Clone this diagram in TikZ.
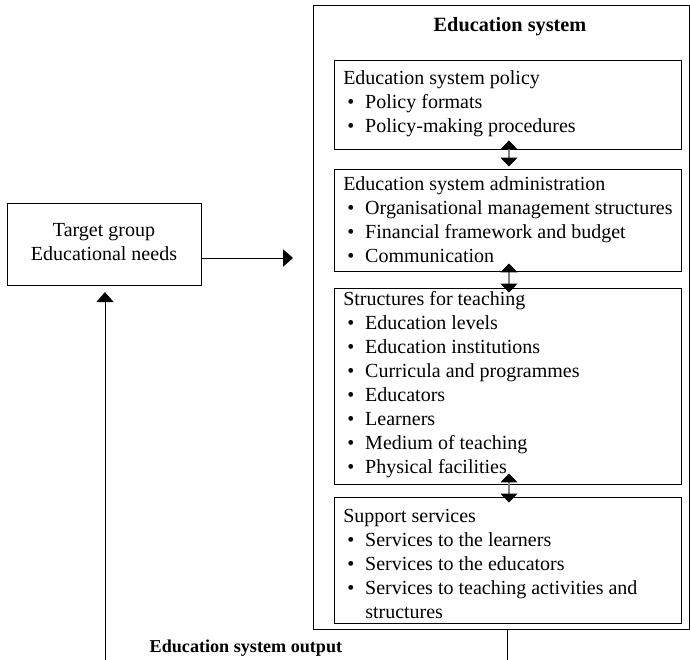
\documentclass[tikz,border=0pt]{standalone}
\usepackage{fontspec}
\setmainfont{Liberation Serif}
\usetikzlibrary{arrows.meta}

\newcommand{\bul}{\hspace*{3pt}\makebox[13.5pt][l]{\textbullet}}

\begin{document}
\begin{tikzpicture}[x=0.75pt,y=-0.75pt,
		font=\fontsize{15}{18}\selectfont,
		box/.style={draw,rectangle,line width=0.7pt,inner sep=0pt},
		txt/.style={anchor=north west,align=left,inner sep=0pt},
		tip/.style={-{Triangle[length=7.5pt,width=13pt]},line width=0.7pt},
		dbl/.style={{Triangle[length=6.75pt,width=12.75pt,black]}-{Triangle[length=6.75pt,width=12.75pt,black]},line width=0.9pt,gray}]
		\useasboundingbox (0,0) rectangle (690,660);

		\node[box,minimum width=282pt,minimum height=468pt] at (501,317) (sys) {};
		\node[anchor=base,font=\fontsize{15.2}{18}\selectfont\bfseries] at (510,32) (title) {Education system};

		\node[box,minimum width=260.25pt,minimum height=66.75pt] at (507.5,104.5) (pol) {};
		\node[box,minimum width=260.25pt,minimum height=76.5pt] at (507.5,220) (adm) {};
		\node[box,minimum width=260.25pt,minimum height=147pt] at (507.5,386) (tea) {};
		\node[box,minimum width=260.25pt,minimum height=94.5pt] at (507.5,560) (sup) {};

		\node[txt] at (343,70) (poltxt) {Education system policy\\
			\bul Policy formats\\
			\bul Policy-making procedures};
		\node[txt] at (343,176) (admtxt) {Education system administration\\
			\bul Organisational management structures\\
			\bul Financial framework and budget\\
			\bul Communication};
		\node[txt] at (343,291) (teatxt) {Structures for teaching\\
			\bul Education levels\\
			\bul Education institutions\\
			\bul Curricula and programmes\\
			\bul Educators\\
			\bul Learners\\
			\bul Medium of teaching\\
			\bul Physical facilities};
		\node[txt] at (343,509) (suptxt) {Support services\\
			\bul Services to the learners\\
			\bul Services to the educators\\
			\bul Services to teaching activities and\\
			\hspace*{16.5pt}structures};

		\node[box,minimum width=145.5pt,minimum height=61.5pt] at (104,244) (tgt) {};
		\node[align=center,inner sep=0pt] at ([yshift=1.5pt]tgt.center) (tgttxt) {Target group\\Educational needs};

		\coordinate (sysin) at (293,258);
		\coordinate (fb) at (105,660);
		\coordinate (out) at (507,660);

		\draw[tip] (tgt.east |- sysin) -- (sysin);
		\draw[tip,shorten >=5pt] (fb) -- (fb |- tgt.south);
		\draw[line width=0.7pt] (sys.south -| out) -- (out);

		\draw[dbl,shorten <=-6.75pt,shorten >=1.5pt] ([xshift=1.1pt]pol.south) -- ([xshift=1.1pt]adm.north);
		\draw[dbl,shorten <=-6pt,shorten >=-3.75pt] ([xshift=1.1pt]adm.south) -- ([xshift=1.1pt]tea.north);
		\draw[dbl,shorten <=-8.25pt,shorten >=-4.5pt] ([xshift=1.1pt]tea.south) -- ([xshift=1.1pt]sup.north);

		\node[anchor=base west,font=\fontsize{13.6}{16}\selectfont\bfseries] at (145,652) (outlbl) {Education system output};
	\end{tikzpicture}
\end{document}
